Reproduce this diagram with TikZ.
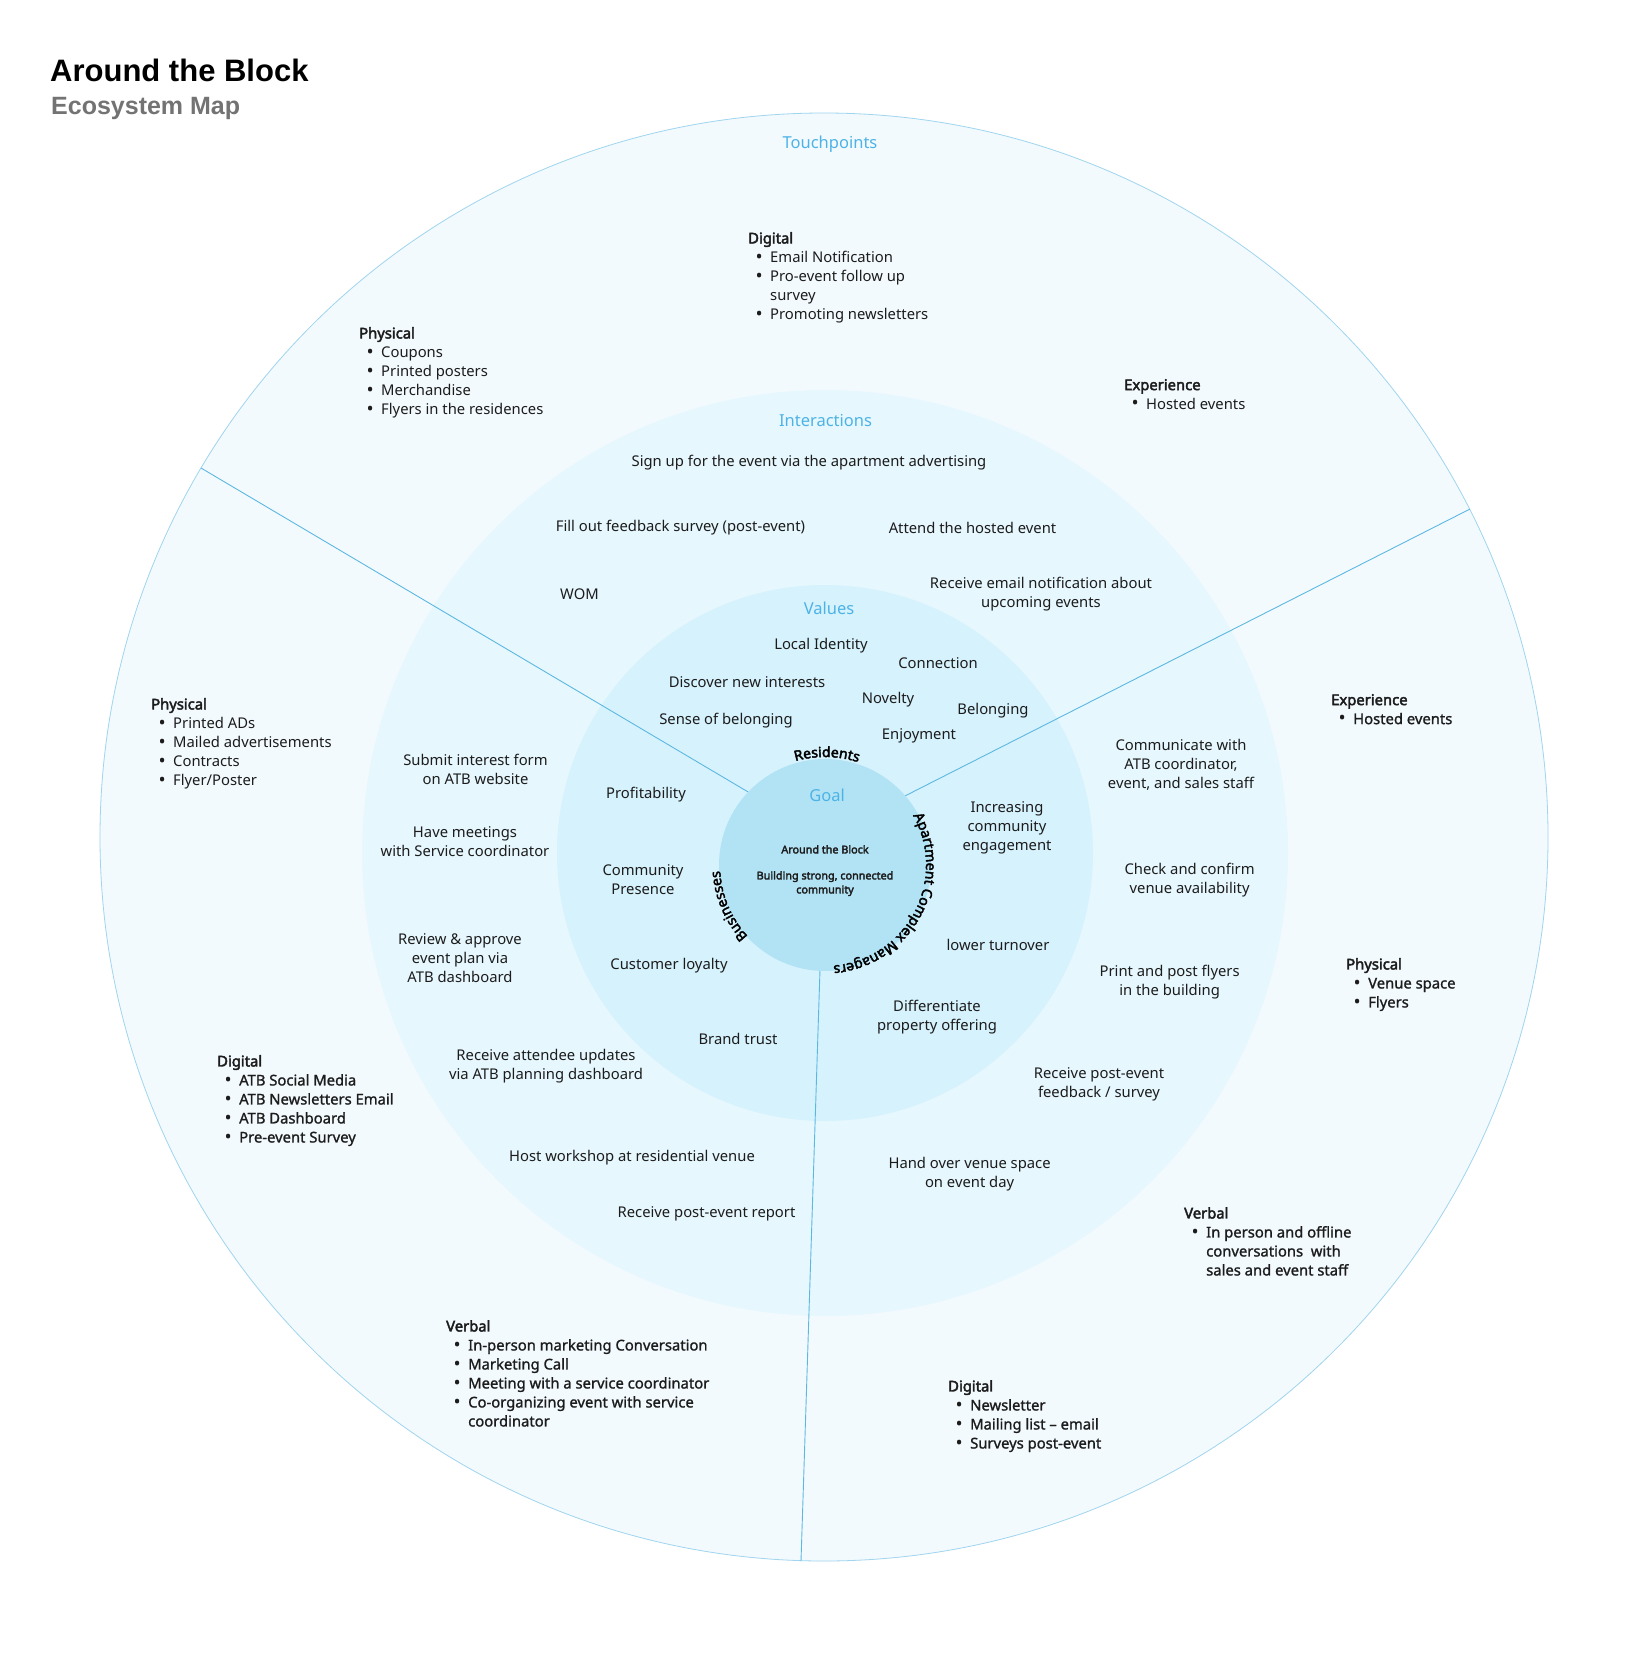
\documentclass[tikz,border=0pt]{standalone}
\usepackage{fontspec}
\setmainfont{Noto Sans}[AutoFakeBold=2.8]
\newfontfamily\titlefont{Liberation Sans}
\newfontfamily\medfont{Noto Sans}[FakeBold=1.2]
\usetikzlibrary{decorations.text}
\definecolor{ringA}{HTML}{F3FAFE}
\definecolor{ringB}{HTML}{E6F7FE}
\definecolor{ringC}{HTML}{D6F2FD}
\definecolor{goalfill}{HTML}{B2E3F5}
\definecolor{edgecol}{HTML}{9FD5EE}
\definecolor{divline}{HTML}{5DB8E1}
\definecolor{lbl}{HTML}{4DB3E6}
\definecolor{ink}{HTML}{1C1C1C}
\definecolor{subgray}{HTML}{737373}
\newcommand{\hd}[1]{\textbf{#1}}
\newcommand{\bul}{\makebox[10pt][c]{\raisebox{-0.8pt}{\fontsize{19}{19}\selectfont\textbullet}}}
\newcommand{\itm}[1]{\hspace*{6pt}\bul\hspace*{6pt}#1}
\newcommand{\mitm}[1]{\hspace*{6pt}\bul\hspace*{6pt}{\medfont #1}}
\newcommand{\cnt}[1]{\hspace*{22pt}#1}
\newcommand{\mcnt}[1]{\hspace*{22pt}{\medfont #1}}
\newcommand{\curvefont}{\fontsize{14}{14}\selectfont\bfseries}
\begin{document}
\begin{tikzpicture}[x=1pt,y=1pt,
  body/.style={font=\fontsize{14.8}{19}\selectfont, text=ink, inner sep=0pt, align=center, yshift=-2pt},
  ringlabel/.style={font=\fontsize{16.5}{20}\selectfont, text=lbl, inner sep=0pt, yshift=-1.5pt},
  tlist/.style={font=\fontsize{14.8}{19}\selectfont, text=ink, inner sep=0pt, align=left, anchor=north west},
  divider/.style={draw=divline, line width=0.9pt},
  goaltext/.style={font=\fontsize{10.8}{14}\selectfont\bfseries, text=ink, inner sep=0pt, align=center},
]
\fill[white] (0,0) rectangle (1650,-1675);
\useasboundingbox (0,0) rectangle (1650,-1675);

% title
\node[anchor=base west, inner sep=0pt, font=\titlefont\bfseries\fontsize{31}{31}\selectfont] (title) at (50,-82) {Around the Block};
\node[anchor=base west, inner sep=0pt, text=subgray, font=\titlefont\bfseries\fontsize{25}{25}\selectfont] (subtitle) at (51,-115) {Ecosystem Map};

% rings
\coordinate (cOut) at (824,-837);
\coordinate (cMid) at (825,-853);
\coordinate (cGoal) at (825,-865);
\fill[ringA] (cOut) circle[radius=724];
\draw[edgecol, line width=0.8pt] (cOut) circle[radius=724];
\fill[ringB] (cMid) circle[radius=463];
\fill[ringC] (cMid) circle[radius=268];

% dividers
\coordinate (d1a) at (201,-468); \coordinate (d1b) at (760,-799);
\coordinate (d2a) at (1470,-509); \coordinate (d2b) at (895,-801);
\coordinate (d3a) at (820.3,-960); \coordinate (d3b) at (801,-1561);
\draw[divider] (d1a) -- (d1b);
\draw[divider] (d2a) -- (d2b);
\draw[divider] (d3a) -- (d3b);

\fill[goalfill] (cGoal) circle[radius=106];

% curved stakeholder labels
\path[decorate, decoration={text along path, text={|\curvefont|Residents}, text align=center}]
  ([shift={(125:108)}]cGoal) arc[start angle=125, end angle=53, radius=108];
\path[decorate, decoration={text along path, text={|\curvefont|Apartment Complex Managers}, text align=center}]
  ([shift={(45:101)}]cGoal) arc[start angle=45, end angle=-101, radius=101];
\path[decorate, decoration={text along path, text={|\curvefont|Businesses}, text align=center}]
  ([shift={(240:105)}]cGoal) arc[start angle=240, end angle=166, radius=105];

% ring labels
\node[ringlabel] (touch) at (830,-143) {Touchpoints};
\node[ringlabel] (inter) at (825.5,-419) {Interactions};
\node[ringlabel] (vals) at (829,-607) {Values};
\node[ringlabel] (goallbl) at (827,-794) {Goal};
\node[goaltext, anchor=north] (goaltxt) at (825,-845) {Around the Block\\[12pt]Building strong, connected\\community};

% values
\node[body] (v1) at (821,-644) {Local Identity};
\node[body] (v2) at (938,-661) {Connection};
\node[body] (v3) at (747,-680) {Discover new interests};
\node[body] (v4) at (888,-698) {Novelty};
\node[body] (v5) at (993,-709) {Belonging};
\node[body] (v6) at (726,-719) {Sense of belonging};
\node[body] (v7) at (919,-734) {Enjoyment};
\node[body] (v8) at (646,-793) {Profitability};
\node[body] (v9) at (1007,-826) {Increasing\\community\\engagement};
\node[body] (v10) at (643,-878) {Community\\Presence};
\node[body] (v11) at (998,-943) {lower turnover};
\node[body] (v12) at (669,-964) {Customer loyalty};
\node[body] (v13) at (937,-1015) {Differentiate\\property offering};
\node[body] (v14) at (738,-1037) {Brand trust};

% interactions
\node[body] (i1) at (809,-461) {Sign up for the event via the apartment advertising};
\node[body] (i2) at (680.5,-526) {Fill out feedback survey (post-event)};
\node[body] (i3) at (972.5,-526) {Attend the hosted event};
\node[body] (i4) at (579.5,-592) {WOM};
\node[body] (i5) at (1041,-592.5) {Receive email notification about\\upcoming events};
\node[body] (i6) at (475.5,-767.5) {Submit interest form\\on ATB website};
\node[body] (i7) at (465,-839.5) {Have meetings\\with Service coordinator};
\node[body] (i8) at (460,-956) {Review \& approve\\event plan via\\ATB dashboard};
\node[body] (i9) at (546,-1064.5) {Receive attendee updates\\via ATB planning dashboard};
\node[body] (i10) at (632,-1156) {Host workshop at residential venue};
\node[body] (i11) at (706.5,-1212) {Receive post-event report};
\node[body] (i12) at (1181,-763) {Communicate with\\ATB coordinator,\\event, and sales staff};
\node[body] (i13) at (1189.6,-878.5) {Check and confirm\\venue availability};
\node[body] (i14) at (1169.6,-980.5) {Print and post flyers\\in the building};
\node[body] (i15) at (1099,-1082.5) {Receive post-event\\feedback / survey};
\node[body] (i16) at (969.6,-1172.5) {Hand over venue space\\on event day};

% touchpoints
\node[tlist] (tDigTop) at (748,-232) {\hd{Digital}\\\itm{Email Notification}\\\itm{Pro-event follow up}\\\cnt{survey}\\\itm{Promoting newsletters}};
\node[tlist] (tPhysTL) at (359,-327) {\hd{Physical}\\\itm{Coupons}\\\itm{Printed posters}\\\itm{Merchandise}\\\itm{Flyers in the residences}};
\node[tlist] (tExpTR) at (1124,-379) {\hd{Experience}\\\itm{Hosted events}};
\node[tlist] (tExpR) at (1331,-694) {\hd{Experience}\\\mitm{Hosted events}};
\node[tlist] (tPhysR) at (1346,-958) {\hd{Physical}\\\mitm{Venue space}\\\mitm{Flyers}};
\node[tlist] (tPhysL) at (151,-698) {\hd{Physical}\\\itm{Printed ADs}\\\itm{Mailed advertisements}\\\itm{Contracts}\\\itm{Flyer/Poster}};
\node[tlist] (tDigL) at (217,-1055) {\hd{Digital}\\\mitm{ATB Social Media}\\\mitm{ATB Newsletters Email}\\\mitm{ATB Dashboard}\\\mitm{Pre-event Survey}};
\node[tlist] (tVerbB) at (446,-1320) {\hd{Verbal}\\\mitm{In-person marketing Conversation}\\\mitm{Marketing Call}\\\mitm{Meeting with a service coordinator}\\\mitm{Co-organizing event with service}\\\mcnt{coordinator}};
\node[tlist] (tVerbR) at (1184,-1207) {\hd{Verbal}\\\mitm{In person and offline}\\\mcnt{conversations\ \ with}\\\mcnt{sales and event staff}};
\node[tlist] (tDigR) at (948,-1380) {\hd{Digital}\\\mitm{Newsletter}\\\mitm{Mailing list – email}\\\mitm{Surveys post-event}};
\end{tikzpicture}
\end{document}
